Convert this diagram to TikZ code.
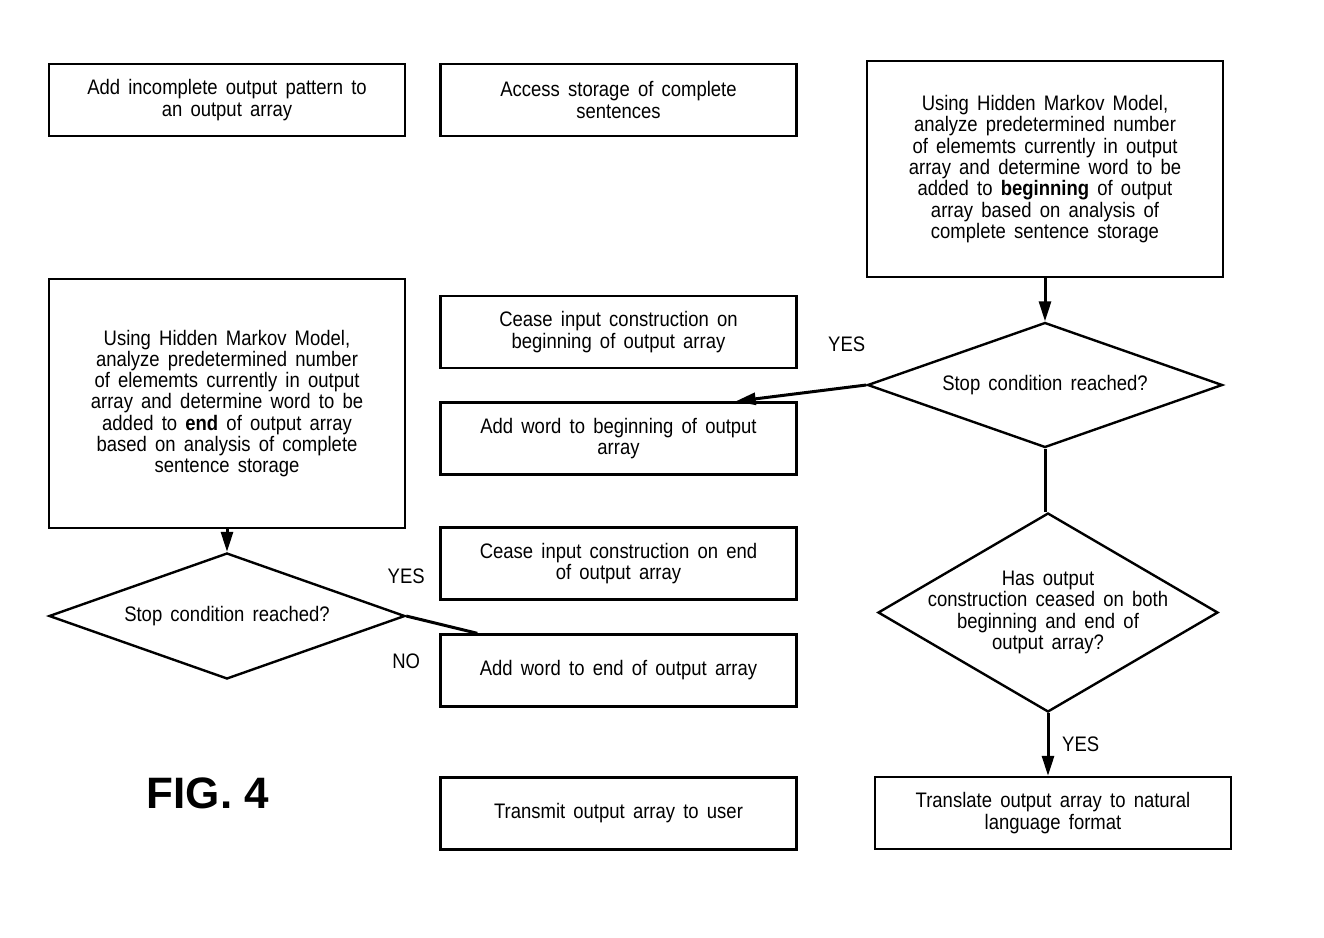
\documentclass[tikz,border=0pt]{standalone}
\usepackage{fontspec}
\setmainfont[FakeStretch=0.88,WordSpace=1.6]{Liberation Sans}
\newfontfamily\figfont{Liberation Sans}
\usepackage{tikz}
\usetikzlibrary{arrows.meta,positioning,shapes.geometric}

\begin{document}
\begin{tikzpicture}[x=0.5pt,y=0.5pt,on grid,>={Triangle[length=10pt,width=6pt]},
  box/.style={draw,line width=1.2pt,minimum width=178pt,minimum height=36pt,
    align=center,font=\fontsize{10.5}{10.65}\selectfont},
  decision/.style={draw,diamond,line width=1.2pt,aspect=2.8,inner sep=0pt,
    align=center,font=\fontsize{10.5}{10.65}\selectfont},
  flow/.style={line width=1.5pt},
  tag/.style={font=\fontsize{10.5}{10.65}\selectfont}]
  \useasboundingbox (0,0) rectangle (1324,-938);
  % left and middle columns
  \node[box]             (A) at (227,-100)         {Add incomplete output pattern to\\an output array};
  \node[box]             (B) [right=195.75pt of A] {Access storage of complete\\sentences};
  \node[box,minimum height=124.5pt] (D) [below=151.75pt of A]
    {Using Hidden Markov Model,\\analyze predetermined number\\of elememts currently in output\\array and determine word to be\\added to \textbf{end} of output array\\based on analysis of complete\\sentence storage};
  \node[decision,minimum width=178pt,minimum height=63pt] (D2) [below=106.25pt of D] {Stop condition reached?};
  \node[box]             (E) [below=116pt of B]    {Cease input construction on\\beginning of output array};
  \node[box]             (F) [below=53.25pt of E]  {Add word to beginning of output\\array};
  \node[box]             (G) [below=62.5pt of F]   {Cease input construction on end\\of output array};
  \node[box]             (H) [below=53.5pt of G]   {Add word to end of output array};
  \node[box]             (I) [below=71.5pt of H]   {Transmit output array to user};
  % right column
  \node[box,minimum height=108pt] (C) [below right=34.5pt and 213.25pt of B]
    {Using Hidden Markov Model,\\analyze predetermined number\\of elememts currently in output\\array and determine word to be\\added to \textbf{beginning} of output\\array based on analysis of\\complete sentence storage};
  \node[decision,minimum width=177.5pt,minimum height=62.5pt] (D1) [below=108pt of C] {Stop condition reached?};
  \node[decision,minimum width=170pt,minimum height=99.5pt,
    label={[align=center,font=\fontsize{10.5}{10.65}\selectfont]center:Has output\\construction ceased on both\\beginning and end of\\output array?}]
    (D3) [below right=113.75pt and 1.5pt of D1] {};
  \node[box]             (J) [below right=100.25pt and 2.5pt of D3] {Translate output array to natural\\language format};
  \node[font=\figfont\bfseries\fontsize{22}{24}\selectfont] (fig) at (208,-793) {FIG. 4};
  \coordinate (Fin) at ([xshift=-31pt]F.north east);
  \coordinate (Hin) at ([xshift=19pt]H.north west);
  \draw[flow,->] (C) -- (D1);
  \draw[flow] (D1.south) -- (D1.south |- D3.north);
  \draw[flow,->] (D3.south) -- node[tag,right=3pt] {YES} (D3.south |- J.north);
  \draw[flow,->] (D1.west) -- node[tag,pos=0.15,above=14pt] {YES} (Fin);
  \draw[flow,->] (D) -- (D2);
  \draw[flow] (D2.east) -- node[tag,pos=0,above=12pt] {YES}
                           node[tag,pos=0,below=15pt] {NO} (Hin);
\end{tikzpicture}
\end{document}
